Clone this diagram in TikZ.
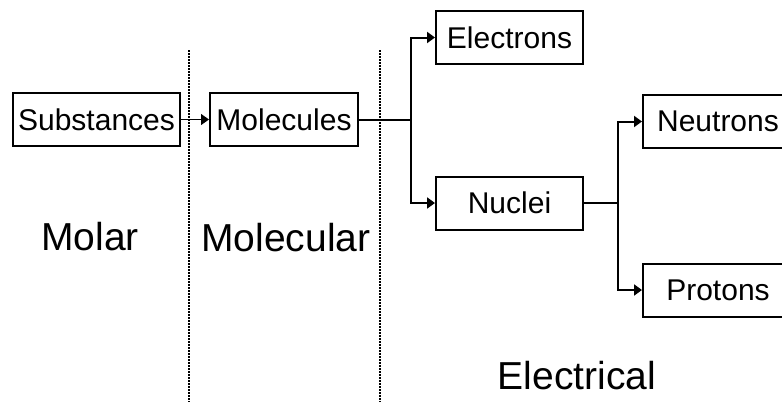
\documentclass[tikz,border=0pt]{standalone}
\usepackage{fontspec}
\setmainfont{Liberation Sans}
\usetikzlibrary{arrows.meta,positioning}

\begin{document}
\begin{tikzpicture}[
  x=1pt, y=-1pt,
  levelbox/.style={rectangle, draw, line width=2pt, inner sep=0pt,
    minimum height=53pt, align=center, font=\fontsize{30}{34}\selectfont},
  levelname/.style={inner sep=0pt, font=\fontsize{39}{44}\selectfont},
  divider/.style={line width=1.5pt, dash pattern=on 1.5pt off 1.5pt},
  arrow/.style={-{Triangle[length=8pt,width=11pt]}, line width=2pt},
  thinarrow/.style={-{Triangle[length=8pt,width=11pt]}, line width=1.2pt}
]
  \clip (0,0) rectangle (782,405);
  \useasboundingbox (0,0) rectangle (782,405);
  % level dividers
  \coordinate (d1top) at (189,50);
  \coordinate (d1bot) at (189,402);
  \coordinate (d2top) at (380,50);
  \coordinate (d2bot) at (380,402);
  \draw[divider] (d1top) -- (d1bot);
  \draw[divider] (d2top) -- (d2bot);
  % boxes
  \node[levelbox, minimum width=167pt] (subst) at (96.5,119.5) {Substances};
  \node[levelbox, minimum width=148pt] (molec) at (284,119.5)  {Molecules};
  \node[levelbox, minimum width=147pt] (elec)  at (509.5,37.5) {Electrons};
  \node[levelbox, minimum width=147pt] (nucl)  at (509.5,203)  {Nuclei};
  \node[levelbox, minimum width=150pt] (neut)  at (718,121.5)  {Neutrons};
  \node[levelbox, minimum width=150pt] (prot)  at (718,290)    {Protons};
  % level names
  \node[levelname] (molar)      at (90,237)  {Molar};
  \node[levelname] (molecular)  at (286,238) {Molecular};
  \node[levelname] (electrical) at (577,376) {Electrical};
  % connectors
  \draw[thinarrow] (subst) -- (molec);
  \draw[arrow] (molec.east) -- ++(52,0) |- (elec.west);
  \draw[arrow] (molec.east) -- ++(52,0) |- (nucl.west);
  \draw[arrow] (nucl.east) -- ++(34,0) |- (neut.west);
  \draw[arrow] (nucl.east) -- ++(34,0) |- (prot.west);
\end{tikzpicture}
\end{document}
